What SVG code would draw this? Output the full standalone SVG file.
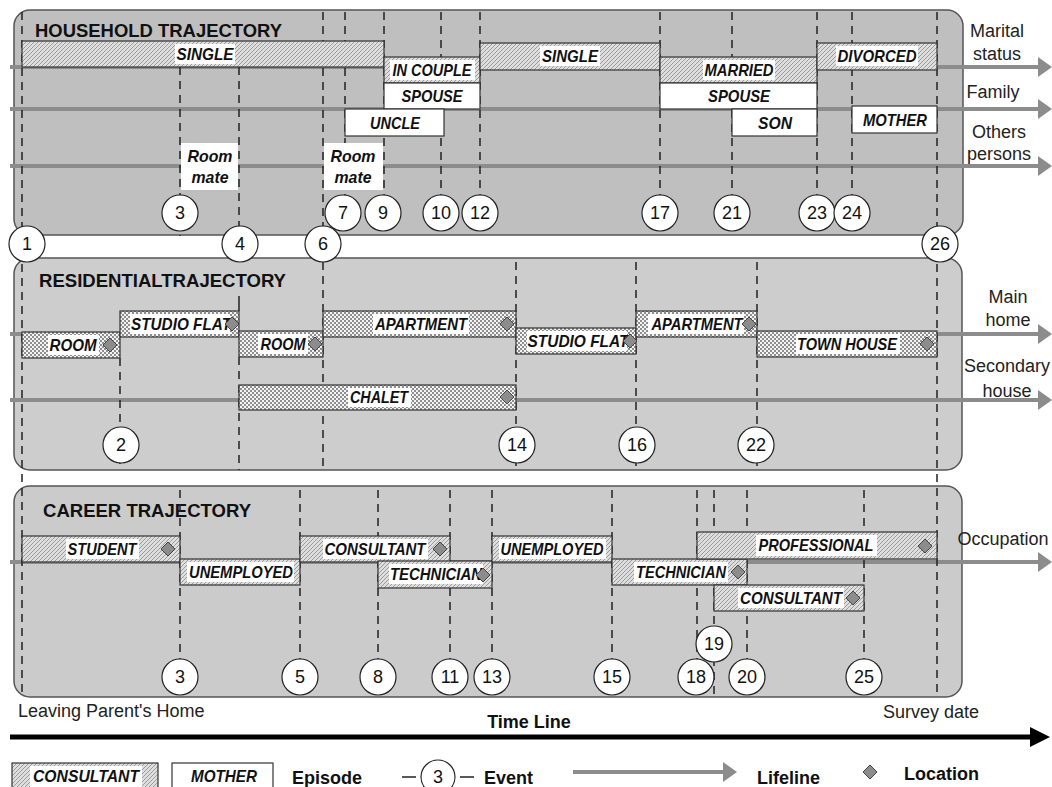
<svg xmlns="http://www.w3.org/2000/svg" width="1052" height="787" viewBox="0 0 1052 787">
<style>
.panel{stroke:#555;stroke-width:1.5}
.hatch{fill:url(#hatch);stroke:#333;stroke-width:1.2}
.check{fill:url(#check);stroke:#333;stroke-width:1.2}
.wbox{fill:#fff;stroke:#333;stroke-width:1.2}
.bg{fill:#fff}
.lbl{font-family:"Liberation Sans",Arial,sans-serif;font-size:17px;font-weight:bold;font-style:italic;text-anchor:middle;fill:#111}
.title{font-family:"Liberation Sans",Arial,sans-serif;font-size:19px;font-weight:bold;fill:#111}
.side{font-family:"Liberation Sans",Arial,sans-serif;font-size:18px;text-anchor:middle;fill:#222}
.plain{font-family:"Liberation Sans",Arial,sans-serif;font-size:18px;fill:#222}
.leg{font-family:"Liberation Sans",Arial,sans-serif;font-size:18px;font-weight:bold;fill:#111}
.ev circle{fill:#fff;stroke:#222;stroke-width:1.2}
.ev text{font-family:"Liberation Sans",Arial,sans-serif;font-size:18px;text-anchor:middle;fill:#111}
.dash{stroke:#222;stroke-width:1.5;stroke-dasharray:8 6;fill:none}
.solid{stroke:#222;stroke-width:1.5;fill:none}
.life{stroke:#8c8c8c;stroke-width:4;fill:none}
</style>
<defs>
<pattern id="hatch" patternUnits="userSpaceOnUse" width="4" height="4">
<rect width="4" height="4" fill="#dedede"/>
<path d="M-1,1 L1,-1 M0,4 L4,0 M3,5 L5,3" stroke="#939393" stroke-width="0.9"/>
</pattern>
<pattern id="check" patternUnits="userSpaceOnUse" width="4" height="4">
<rect width="4" height="4" fill="#f4f4f4"/>
<rect width="2" height="2" fill="#8e8e8e"/>
<rect x="2" y="2" width="2" height="2" fill="#8e8e8e"/>
</pattern>
<marker id="ah" markerUnits="userSpaceOnUse" markerWidth="14" markerHeight="20" refX="0" refY="10" orient="auto" overflow="visible">
<path d="M0,0 L14,10 L0,20 Z" fill="#8c8c8c"/>
</marker>
<marker id="ahk" markerUnits="userSpaceOnUse" markerWidth="20" markerHeight="20" refX="0" refY="10" orient="auto" overflow="visible">
<path d="M0,0 L20,10 L0,20 Z" fill="#000"/>
</marker>
<path id="loc" d="M0,-7 L7,0 L0,7 L-7,0 Z" fill="#8c8c8c" stroke="#444" stroke-width="1"/>
</defs>
<rect width="1052" height="787" fill="#fff"/>

<!-- Panels -->
<g id="household-panel"><rect class="panel" x="14" y="10" width="949" height="225" rx="16" fill="#bfbfbf"/>
<text class="title" x="35" y="37" textLength="247" lengthAdjust="spacingAndGlyphs">HOUSEHOLD TRAJECTORY</text></g>
<g id="residential-panel"><rect class="panel" x="14" y="258" width="948" height="212" rx="16" fill="#cdcdcd"/>
<text class="title" x="39" y="287" textLength="247" lengthAdjust="spacingAndGlyphs">RESIDENTIALTRAJECTORY</text></g>
<g id="career-panel"><rect class="panel" x="14" y="486" width="948" height="211" rx="16" fill="#cbcbcb"/>
<text class="title" x="43" y="517" textLength="208" lengthAdjust="spacingAndGlyphs">CAREER TRAJECTORY</text></g>

<!-- Connectors: lifelines and event lines -->
<g id="connectors">
<line class="life" x1="10" y1="67" x2="1038" y2="67" marker-end="url(#ah)"/>
<line class="life" x1="10" y1="109" x2="1038" y2="109" marker-end="url(#ah)"/>
<line class="life" x1="10" y1="166" x2="1038" y2="166" marker-end="url(#ah)"/>
<line class="life" x1="10" y1="334" x2="1038" y2="334" marker-end="url(#ah)"/>
<line class="life" x1="10" y1="400" x2="1038" y2="400" marker-end="url(#ah)"/>
<line class="life" x1="10" y1="562" x2="1038" y2="562" marker-end="url(#ah)"/>
<line x1="10" y1="737" x2="1030" y2="737" stroke="#000" stroke-width="5" marker-end="url(#ahk)"/>
<g id="event-lines">
<line class="dash" x1="22" y1="12" x2="22" y2="697"/>
<line class="dash" x1="937" y1="12" x2="937" y2="697"/>
<line class="dash" x1="180" y1="67" x2="180" y2="236"/>
<line class="dash" x1="239" y1="67" x2="239" y2="236"/>
<line class="dash" x1="323" y1="12" x2="323" y2="236"/>
<line class="dash" x1="345" y1="12" x2="345" y2="200"/>
<line class="dash" x1="384" y1="12" x2="384" y2="200"/>
<line class="dash" x1="441" y1="12" x2="441" y2="200"/>
<line class="dash" x1="480" y1="12" x2="480" y2="200"/>
<line class="dash" x1="660" y1="12" x2="660" y2="200"/>
<line class="dash" x1="732" y1="12" x2="732" y2="200"/>
<line class="dash" x1="817" y1="12" x2="817" y2="200"/>
<line class="dash" x1="852" y1="12" x2="852" y2="200"/>
<line class="dash" x1="120" y1="358" x2="120" y2="470"/>
<line class="solid" x1="239" y1="296" x2="239" y2="311"/>
<line class="dash" x1="239" y1="357" x2="239" y2="470"/>
<line class="dash" x1="323" y1="262" x2="323" y2="470"/>
<line class="dash" x1="516" y1="262" x2="516" y2="470"/>
<line class="dash" x1="636" y1="262" x2="636" y2="470"/>
<line class="dash" x1="757" y1="262" x2="757" y2="470"/>
<line class="dash" x1="180" y1="490" x2="180" y2="697"/>
<line class="dash" x1="300" y1="490" x2="300" y2="697"/>
<line class="dash" x1="378" y1="490" x2="378" y2="697"/>
<line class="dash" x1="450" y1="490" x2="450" y2="697"/>
<line class="dash" x1="492" y1="490" x2="492" y2="697"/>
<line class="dash" x1="612" y1="490" x2="612" y2="697"/>
<line class="dash" x1="697" y1="490" x2="697" y2="697"/>
<line class="dash" x1="714" y1="490" x2="714" y2="697"/>
<line class="dash" x1="747" y1="490" x2="747" y2="697"/>
<line class="dash" x1="864" y1="490" x2="864" y2="697"/>
</g>
</g>

<!-- Household episodes -->
<g id="hh-single1"><rect class="hatch" x="22" y="41" width="362" height="26"/><rect class="bg" x="175" y="44" width="60" height="20"/><text class="lbl" x="205" y="60" textLength="57" lengthAdjust="spacingAndGlyphs">SINGLE</text></g>
<g id="hh-incouple"><rect class="hatch" x="384" y="57" width="96" height="26"/><rect class="bg" x="390" y="60" width="85" height="20"/><text class="lbl" x="432" y="76" textLength="79" lengthAdjust="spacingAndGlyphs">IN COUPLE</text></g>
<g id="hh-spouse1"><rect class="wbox" x="384" y="83" width="96" height="26"/><text class="lbl" x="432" y="102" textLength="61" lengthAdjust="spacingAndGlyphs">SPOUSE</text></g>
<g id="hh-uncle"><rect class="wbox" x="345" y="109" width="99" height="27"/><text class="lbl" x="395" y="129" textLength="50" lengthAdjust="spacingAndGlyphs">UNCLE</text></g>
<g id="hh-roommate1"><rect class="bg" x="181" y="143" width="57" height="47"/><text class="lbl" x="210" y="162" textLength="45" lengthAdjust="spacingAndGlyphs">Room</text><text class="lbl" x="210" y="183" textLength="37" lengthAdjust="spacingAndGlyphs">mate</text></g>
<g id="hh-roommate2"><rect class="bg" x="324" y="143" width="59" height="47"/><text class="lbl" x="353" y="162" textLength="45" lengthAdjust="spacingAndGlyphs">Room</text><text class="lbl" x="353" y="183" textLength="37" lengthAdjust="spacingAndGlyphs">mate</text></g>
<g id="hh-single2"><rect class="hatch" x="480" y="43" width="180" height="27"/><rect class="bg" x="540" y="46" width="60" height="20"/><text class="lbl" x="570" y="62" textLength="56" lengthAdjust="spacingAndGlyphs">SINGLE</text></g>
<g id="hh-married"><rect class="hatch" x="660" y="57" width="157" height="26"/><rect class="bg" x="703" y="60" width="72" height="20"/><text class="lbl" x="739" y="76" textLength="69" lengthAdjust="spacingAndGlyphs">MARRIED</text></g>
<g id="hh-spouse2"><rect class="wbox" x="660" y="83" width="157" height="26"/><text class="lbl" x="739" y="102" textLength="62" lengthAdjust="spacingAndGlyphs">SPOUSE</text></g>
<g id="hh-son"><rect class="wbox" x="732" y="109" width="85" height="27"/><text class="lbl" x="775" y="129" textLength="34" lengthAdjust="spacingAndGlyphs">SON</text></g>
<g id="hh-divorced"><rect class="hatch" x="817" y="43" width="120" height="27"/><rect class="bg" x="836" y="46" width="82" height="20"/><text class="lbl" x="877" y="62" textLength="79" lengthAdjust="spacingAndGlyphs">DIVORCED</text></g>
<g id="hh-mother"><rect class="wbox" x="852" y="106" width="85" height="27"/><text class="lbl" x="895" y="126" textLength="64" lengthAdjust="spacingAndGlyphs">MOTHER</text></g>

<!-- Residential episodes -->
<g id="res-room1"><rect class="check" x="22" y="332" width="98" height="26"/><rect class="bg" x="48" y="335" width="51" height="20"/><text class="lbl" x="73" y="351" textLength="47" lengthAdjust="spacingAndGlyphs">ROOM</text><use href="#loc" x="110" y="345"/></g>
<g id="res-studio1"><rect class="check" x="120" y="311" width="119" height="26"/><rect class="bg" x="130" y="314" width="100" height="20"/><text class="lbl" x="181" y="330" textLength="100" lengthAdjust="spacingAndGlyphs">STUDIO FLAT</text><use href="#loc" x="232" y="324"/></g>
<g id="res-room2"><rect class="check" x="239" y="331" width="84" height="26"/><rect class="bg" x="258" y="334" width="50" height="20"/><text class="lbl" x="283" y="350" textLength="45" lengthAdjust="spacingAndGlyphs">ROOM</text><use href="#loc" x="315" y="344"/></g>
<g id="res-apartment1"><rect class="check" x="323" y="311" width="193" height="26"/><rect class="bg" x="373" y="314" width="96" height="20"/><text class="lbl" x="421" y="330" textLength="92" lengthAdjust="spacingAndGlyphs">APARTMENT</text><use href="#loc" x="507" y="324"/></g>
<g id="res-studio2"><rect class="check" x="516" y="328" width="120" height="26"/><rect class="bg" x="527" y="331" width="100" height="20"/><text class="lbl" x="578" y="347" textLength="101" lengthAdjust="spacingAndGlyphs">STUDIO FLAT</text><use href="#loc" x="630" y="341"/></g>
<g id="res-apartment2"><rect class="check" x="636" y="311" width="121" height="26"/><rect class="bg" x="648" y="314" width="96" height="20"/><text class="lbl" x="697" y="330" textLength="91" lengthAdjust="spacingAndGlyphs">APARTMENT</text><use href="#loc" x="749" y="324"/></g>
<g id="res-townhouse"><rect class="check" x="757" y="331" width="180" height="26"/><rect class="bg" x="796" y="334" width="104" height="20"/><text class="lbl" x="847" y="350" textLength="100" lengthAdjust="spacingAndGlyphs">TOWN HOUSE</text><use href="#loc" x="927" y="344"/></g>
<g id="res-chalet"><rect class="check" x="239" y="385" width="277" height="25"/><rect class="bg" x="348" y="388" width="63" height="19"/><text class="lbl" x="379" y="403" textLength="58" lengthAdjust="spacingAndGlyphs">CHALET</text><use href="#loc" x="507" y="397"/></g>

<!-- Career episodes -->
<g id="car-student"><rect class="hatch" x="22" y="536" width="158" height="26"/><rect class="bg" x="66" y="539" width="73" height="20"/><text class="lbl" x="102" y="555" textLength="69" lengthAdjust="spacingAndGlyphs">STUDENT</text><use href="#loc" x="168" y="549"/></g>
<g id="car-unemployed1"><rect class="hatch" x="180" y="559" width="120" height="26"/><rect class="bg" x="187" y="562" width="107" height="20"/><text class="lbl" x="241" y="578" textLength="104" lengthAdjust="spacingAndGlyphs">UNEMPLOYED</text></g>
<g id="car-consultant1"><rect class="hatch" x="300" y="536" width="150" height="26"/><rect class="bg" x="323" y="539" width="105" height="20"/><text class="lbl" x="375" y="555" textLength="101" lengthAdjust="spacingAndGlyphs">CONSULTANT</text><use href="#loc" x="440" y="549"/></g>
<g id="car-technician1"><rect class="hatch" x="378" y="561" width="114" height="27"/><rect class="bg" x="389" y="564" width="94" height="20"/><text class="lbl" x="436" y="580" textLength="92" lengthAdjust="spacingAndGlyphs">TECHNICIAN</text><use href="#loc" x="483" y="575"/></g>
<g id="car-unemployed2"><rect class="hatch" x="492" y="536" width="120" height="26"/><rect class="bg" x="499" y="539" width="107" height="20"/><text class="lbl" x="552" y="555" textLength="103" lengthAdjust="spacingAndGlyphs">UNEMPLOYED</text></g>
<g id="car-technician2"><rect class="hatch" x="612" y="559" width="135" height="26"/><rect class="bg" x="634" y="562" width="94" height="20"/><text class="lbl" x="681" y="578" textLength="90" lengthAdjust="spacingAndGlyphs">TECHNICIAN</text><use href="#loc" x="738" y="572"/></g>
<g id="car-professional"><rect class="hatch" x="697" y="532" width="240" height="27"/><rect class="bg" x="756" y="535" width="121" height="21"/><text class="lbl" x="816" y="551" textLength="115" lengthAdjust="spacingAndGlyphs">PROFESSIONAL</text><use href="#loc" x="925" y="546"/></g>
<g id="car-consultant2"><rect class="hatch" x="714" y="585" width="150" height="26"/><rect class="bg" x="738" y="588" width="106" height="20"/><text class="lbl" x="791" y="604" textLength="102" lengthAdjust="spacingAndGlyphs">CONSULTANT</text><use href="#loc" x="853" y="598"/></g>

<!-- Events -->
<g class="ev">
<g id="ev1"><circle cx="27" cy="244" r="18"/><text x="27" y="250">1</text></g>
<g id="ev2"><circle cx="121" cy="445" r="18"/><text x="121" y="451">2</text></g>
<g id="ev3h"><circle cx="180" cy="213" r="18"/><text x="180" y="219">3</text></g>
<g id="ev3c"><circle cx="180" cy="677" r="18"/><text x="180" y="683">3</text></g>
<g id="ev4"><circle cx="240" cy="244" r="18"/><text x="240" y="250">4</text></g>
<g id="ev5"><circle cx="300" cy="677" r="18"/><text x="300" y="683">5</text></g>
<g id="ev6"><circle cx="323" cy="244" r="18"/><text x="323" y="250">6</text></g>
<g id="ev7"><circle cx="343" cy="213" r="18"/><text x="343" y="219">7</text></g>
<g id="ev8"><circle cx="378" cy="677" r="18"/><text x="378" y="683">8</text></g>
<g id="ev9"><circle cx="383" cy="213" r="18"/><text x="383" y="219">9</text></g>
<g id="ev10"><circle cx="441" cy="213" r="18"/><text x="441" y="219">10</text></g>
<g id="ev11"><circle cx="450" cy="677" r="18"/><text x="450" y="683">11</text></g>
<g id="ev12"><circle cx="480" cy="213" r="18"/><text x="480" y="219">12</text></g>
<g id="ev13"><circle cx="492" cy="677" r="18"/><text x="492" y="683">13</text></g>
<g id="ev14"><circle cx="517" cy="445" r="18"/><text x="517" y="451">14</text></g>
<g id="ev15"><circle cx="612" cy="677" r="18"/><text x="612" y="683">15</text></g>
<g id="ev16"><circle cx="637" cy="445" r="18"/><text x="637" y="451">16</text></g>
<g id="ev17"><circle cx="660" cy="213" r="18"/><text x="660" y="219">17</text></g>
<g id="ev18"><circle cx="696" cy="677" r="18"/><text x="696" y="683">18</text></g>
<g id="ev19"><circle cx="714" cy="644" r="18"/><text x="714" y="650">19</text></g>
<g id="ev20"><circle cx="747" cy="677" r="18"/><text x="747" y="683">20</text></g>
<g id="ev21"><circle cx="732" cy="213" r="18"/><text x="732" y="219">21</text></g>
<g id="ev22"><circle cx="756" cy="445" r="18"/><text x="756" y="451">22</text></g>
<g id="ev23"><circle cx="817" cy="213" r="18"/><text x="817" y="219">23</text></g>
<g id="ev24"><circle cx="852" cy="213" r="18"/><text x="852" y="219">24</text></g>
<g id="ev25"><circle cx="864" cy="677" r="18"/><text x="864" y="683">25</text></g>
<g id="ev26"><circle cx="940" cy="244" r="18"/><text x="940" y="250">26</text></g>
</g>

<!-- Lifeline labels -->
<g id="lifeline-labels">
<text class="side" x="997" y="37">Marital</text>
<text class="side" x="997" y="60">status</text>
<text class="side" x="993" y="98">Family</text>
<text class="side" x="999" y="138">Others</text>
<text class="side" x="999" y="160">persons</text>
<text class="side" x="1008" y="303">Main</text>
<text class="side" x="1008" y="326">home</text>
<text class="side" x="1007" y="372">Secondary</text>
<text class="side" x="1007" y="397">house</text>
<text class="side" x="1003" y="545">Occupation</text>
</g>

<!-- Time line labels -->
<g id="timeline-labels">
<text class="plain" x="18" y="717">Leaving Parent's Home</text>
<text class="leg" x="529" y="728" text-anchor="middle">Time Line</text>
<text class="plain" x="883" y="718">Survey date</text>
</g>

<!-- Legend -->
<g id="legend">
<g id="leg-episode-hatch"><rect class="hatch" x="12" y="763" width="146" height="30"/><rect class="bg" x="30" y="766" width="112" height="21"/><text class="lbl" x="86" y="782" textLength="106" lengthAdjust="spacingAndGlyphs">CONSULTANT</text></g>
<g id="leg-episode-white"><rect class="wbox" x="172" y="763" width="101" height="30"/><text class="lbl" x="224" y="782" textLength="66" lengthAdjust="spacingAndGlyphs">MOTHER</text></g>
<text class="leg" x="292" y="784">Episode</text>
<g id="leg-event" class="ev">
<line class="solid" x1="402" y1="777" x2="416" y2="777"/>
<line class="solid" x1="460" y1="777" x2="474" y2="777"/>
<circle cx="438" cy="777" r="17"/><text x="438" y="783">3</text>
</g>
<text class="leg" x="484" y="784">Event</text>
<line class="life" x1="573" y1="772" x2="723" y2="772" marker-end="url(#ah)"/>
<text class="leg" x="757" y="784">Lifeline</text>
<use href="#loc" x="870" y="772"/>
<text class="leg" x="904" y="780">Location</text>
</g>
</svg>
